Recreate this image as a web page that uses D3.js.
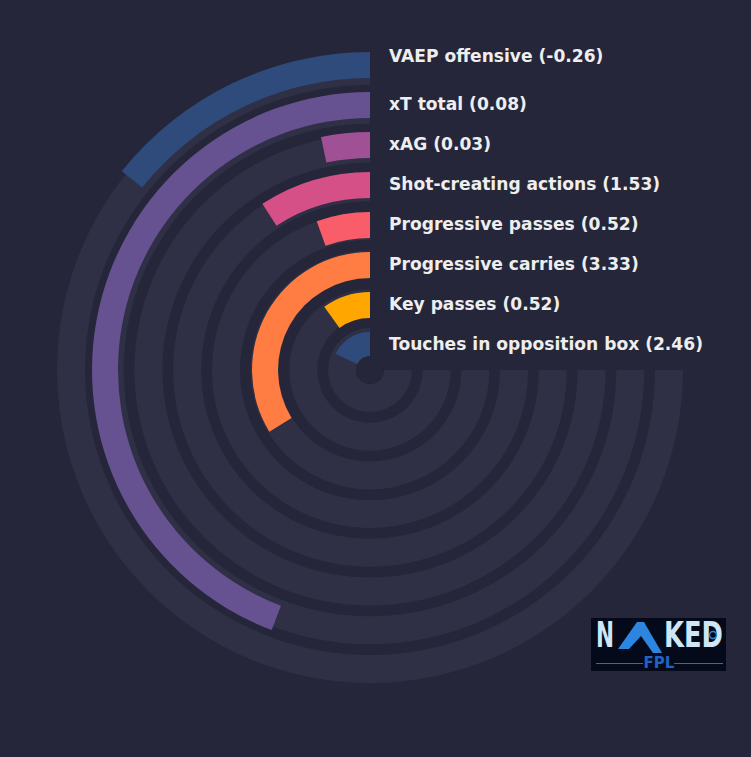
<!DOCTYPE html>
<html>
<head>
<meta charset="utf-8">
<script src="https://cdn.jsdelivr.net/npm/d3@7"></script>
<style>
  html, body { margin: 0; padding: 0; background: #25263a; }
  svg { display: block; }
</style>
</head>
<body>
<svg id="chart" width="751" height="757"></svg>
<script>
// metrics, outermost ring first
var metrics = ['VAEP offensive', 'xT total', 'xAG', 'Shot-creating actions',
    'Progressive passes', 'Progressive carries', 'Key passes', 'Touches in opposition box'];
var rawValues = ['-0.26', '0.08', '0.03', '1.53', '0.52', '3.33', '0.52', '2.46'];
// percentile rank, bar length out of 100
var percentiles = [19, 59, 4.4, 12.2, 7.3, 45, 13.3, 24];
var colors = ['#2f4b7c', '#665191', '#a05195', '#d45087', '#f95d6a', '#ff7c43', '#ffa600', '#2f4b7c'];

var W = 751, H = 757;
var cx = 370, cy = 370;
var bg = '#25263a', trackColor = '#2f3045';

var svg = d3.select('#chart');
svg.append('rect').attr('width', W).attr('height', H).attr('fill', bg);

var g = svg.append('g').attr('transform', 'translate(' + cx + ',' + cy + ')');

// ring radii
var idx = d3.range(metrics.length);
var trackOuter = d3.scaleLinear().domain([0, metrics.length - 1]).range([313, 42]);
var barOuter = d3.scaleLinear().domain([0, metrics.length - 1]).range([318, 38]);
// angle: 0 at 12 o'clock, counter-clockwise over 270 degrees
var angle = d3.scaleLinear().domain([0, 100]).range([0, -1.5 * Math.PI]);

var arc = d3.arc();

// background tracks
g.selectAll('path.track')
    .data(idx)
    .enter().append('path')
    .attr('class', 'track')
    .attr('fill', trackColor)
    .attr('d', function (i) {
        return arc({
            innerRadius: trackOuter(i) - 28,
            outerRadius: trackOuter(i),
            startAngle: angle(0),
            endAngle: angle(100)
        });
    });

// value bars
g.selectAll('path.bar')
    .data(idx)
    .enter().append('path')
    .attr('class', 'bar')
    .attr('fill', function (i) { return colors[i]; })
    .attr('d', function (i) {
        return arc({
            innerRadius: barOuter(i) - 26,
            outerRadius: barOuter(i),
            startAngle: angle(0),
            endAngle: angle(percentiles[i])
        });
    });

// hole in the middle
g.append('circle').attr('r', 14).attr('fill', bg);

// labels
svg.selectAll('text.label')
    .data(idx)
    .enter().append('text')
    .attr('class', 'label')
    .attr('x', cx + 19)
    .attr('y', function (i) {
        var y = cy - barOuter(i) + 18;
        // top label sits a bit higher than its ring
        if (i === 0) y -= 8.3;
        return y;
    })
    .attr('fill', '#eeeeee')
    .style('font-family', 'DejaVu Sans, sans-serif')
    .style('font-weight', 'bold')
    .style('font-size', '17.1px')
    .text(function (i) { return metrics[i] + ' (' + rawValues[i] + ')'; });

// logo
var logo = svg.append('g').attr('transform', 'translate(591,618)');
logo.append('rect').attr('width', 135).attr('height', 53).attr('fill', '#040a1a');
function logoText(txt, x, len) {
    logo.append('text')
        .attr('x', x).attr('y', 29)
        .attr('textLength', len)
        .attr('lengthAdjust', 'spacingAndGlyphs')
        .style('font-family', 'DejaVu Sans, sans-serif')
        .style('font-weight', 'bold')
        .style('font-size', '36px')
        .attr('fill', '#cfe6f7')
        .text(txt);
}
logoText('N', 5, 18);
logoText('KED', 73, 59);
// the "A" is a blue fin shape
var fin = d3.path();
fin.moveTo(27, 31);
fin.lineTo(46, 4);
fin.lineTo(53, 4);
fin.lineTo(71, 35);
fin.lineTo(62, 35);
fin.lineTo(50, 18);
fin.lineTo(38, 31);
fin.closePath();
logo.append('path').attr('d', fin.toString()).attr('fill', '#2c86e0');
logo.append('circle').attr('cx', 122).attr('cy', 17).attr('r', 3.5)
    .attr('fill', '#040a1a').attr('stroke', '#2c86e0').attr('stroke-width', 1.5);
logo.append('text')
    .attr('x', 68).attr('y', 50)
    .attr('text-anchor', 'middle')
    .style('font-family', 'DejaVu Sans, sans-serif')
    .style('font-weight', 'bold')
    .style('font-size', '15px')
    .attr('fill', '#1f63c9')
    .text('FPL');
logo.append('line').attr('x1', 5).attr('x2', 52).attr('y1', 45.5).attr('y2', 45.5)
    .attr('stroke', '#1f6fd0').attr('stroke-width', 1.2);
logo.append('line').attr('x1', 83).attr('x2', 132).attr('y1', 45.5).attr('y2', 45.5)
    .attr('stroke', '#1f6fd0').attr('stroke-width', 1.2);
</script>
</body>
</html>
